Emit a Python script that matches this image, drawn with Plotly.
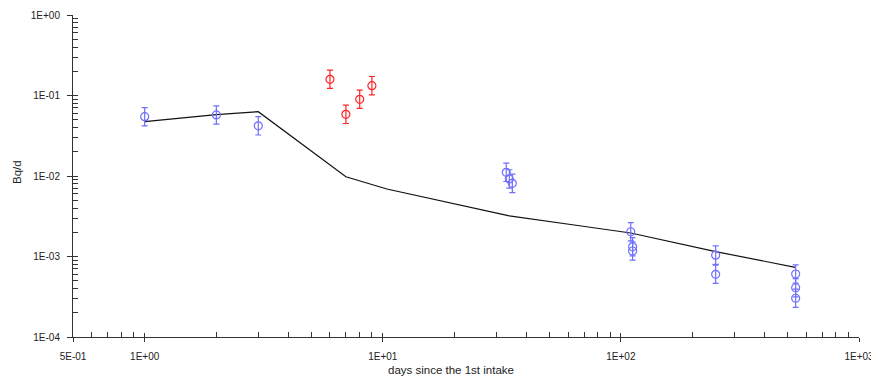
import plotly.graph_objects as go

# ---- data ----
model_days = [1, 2, 3, 7, 10.4, 25.6, 34, 67, 110, 250, 540]
model_bq = [0.0473, 0.058, 0.063, 0.0098, 0.0069, 0.00378, 0.00319, 0.00241, 0.00196, 0.00115, 0.000734]

blue_days = [1, 2, 3, 33, 34, 35, 110, 112, 112, 250, 250, 542, 542, 542]
blue_bq = [0.0545, 0.0573, 0.042, 0.0111, 0.0092, 0.0081, 0.00203, 0.00132, 0.00117,
           0.00104, 0.000601, 0.000606, 0.000409, 0.000303]

red_days = [6, 7, 8, 9]
red_bq = [0.159, 0.0584, 0.0897, 0.1324]

err_factor = 1.3

x_tickvals = [0.5, 1, 10, 100, 1000]
x_ticktext = ["5E-01", "1E+00", "1E+01", "1E+02", "1E+03"]
y_tickvals = [1e-4, 1e-3, 1e-2, 1e-1, 1]
y_ticktext = ["1E-04", "1E-03", "1E-02", "1E-01", "1E+00"]

x_minor = [m * 10 ** e for e in (-1, 0, 1, 2) for m in range(2, 10) if 0.5 < m * 10 ** e < 1000]
y_minor = [m * 10 ** e for e in (-4, -3, -2, -1) for m in range(2, 10)]

BLUE = "#6f6fff"
RED = "#ff2424"
AX = "#333333"
FONT = dict(family="Liberation Sans, Arial, sans-serif", size=10, color="#222222")


def errs(vals):
    plus = [v * (err_factor - 1) for v in vals]
    minus = [v * (1 - 1 / err_factor) for v in vals]
    return plus, minus


fig = go.Figure()
fig.add_trace(go.Scatter(x=model_days, y=model_bq, mode="lines",
                         line=dict(color="#111111", width=1.2), showlegend=False))
bp, bm = errs(blue_bq)
fig.add_trace(go.Scatter(x=blue_days, y=blue_bq, mode="markers",
                         marker=dict(symbol="circle-open", size=8, color=BLUE, line=dict(width=1.2)),
                         error_y=dict(type="data", array=bp, arrayminus=bm, color=BLUE,
                                      thickness=1.2, width=3),
                         showlegend=False))
rp, rm = errs(red_bq)
fig.add_trace(go.Scatter(x=red_days, y=red_bq, mode="markers",
                         marker=dict(symbol="circle-open", size=8, color=RED, line=dict(width=1.2)),
                         error_y=dict(type="data", array=rp, arrayminus=rm, color=RED,
                                      thickness=1.2, width=3),
                         showlegend=False))

xr = [-0.30103, 3]
yr = [-4, 0]
# the page body adds an 8px offset, so the figure is 8px smaller and left/top margins shifted
fig.update_layout(
    width=871, height=375,
    margin=dict(l=65, r=20, t=7, b=46, autoexpand=False),
    paper_bgcolor="white", plot_bgcolor="white",
    font=FONT,
    xaxis=dict(type="log", range=xr, tickmode="array", tickvals=x_tickvals, ticktext=x_ticktext,
               ticks="outside", ticklen=4, tickcolor=AX, tickwidth=1, automargin=False,
               showline=True, linecolor=AX, linewidth=1, showgrid=False, zeroline=False,
               ticklabelstandoff=6,
               minor=dict(tickmode="array", tickvals=x_minor, ticks="inside", ticklen=5,
                          tickcolor=AX, tickwidth=1, showgrid=False)),
    yaxis=dict(type="log", range=yr, tickmode="array", tickvals=y_tickvals, ticktext=y_ticktext,
               ticks="outside", ticklen=5, tickcolor=AX, tickwidth=1, automargin=False,
               showline=True, linecolor=AX, linewidth=1, showgrid=False, zeroline=False,
               ticklabelstandoff=5,
               minor=dict(tickmode="array", tickvals=y_minor, ticks="inside", ticklen=5,
                          tickcolor=AX, tickwidth=1, showgrid=False)),
    xaxis2=dict(type="log", range=xr, overlaying="x", anchor="y", side="bottom",
                tickmode="array", tickvals=x_tickvals, showticklabels=False, automargin=False,
                ticks="inside", ticklen=4, tickcolor=AX, showline=False, showgrid=False,
                zeroline=False),
    yaxis2=dict(type="log", range=yr, overlaying="y", anchor="x", side="left",
                tickmode="array", tickvals=y_tickvals, showticklabels=False, automargin=False,
                ticks="inside", ticklen=5, tickcolor=AX, showline=False, showgrid=False,
                zeroline=False),
    annotations=[
        dict(text="days since the 1st intake", xref="paper", yref="paper",
             x=0.481, y=0, yshift=-33, xanchor="center", yanchor="middle",
             showarrow=False, font=dict(size=11.5)),
        dict(text="Bq/d", xref="paper", yref="paper", textangle=-90,
             x=0, xshift=-56, y=0.5, yshift=4, xanchor="center", yanchor="middle",
             showarrow=False, font=dict(size=11.5)),
    ],
)
# invisible anchor trace so the overlay axes are drawn
fig.add_trace(go.Scatter(x=[1], y=[0.01], xaxis="x2", yaxis="y2", mode="markers",
                         marker=dict(opacity=0), hoverinfo="skip", showlegend=False))

fig.write_html("out.html")
